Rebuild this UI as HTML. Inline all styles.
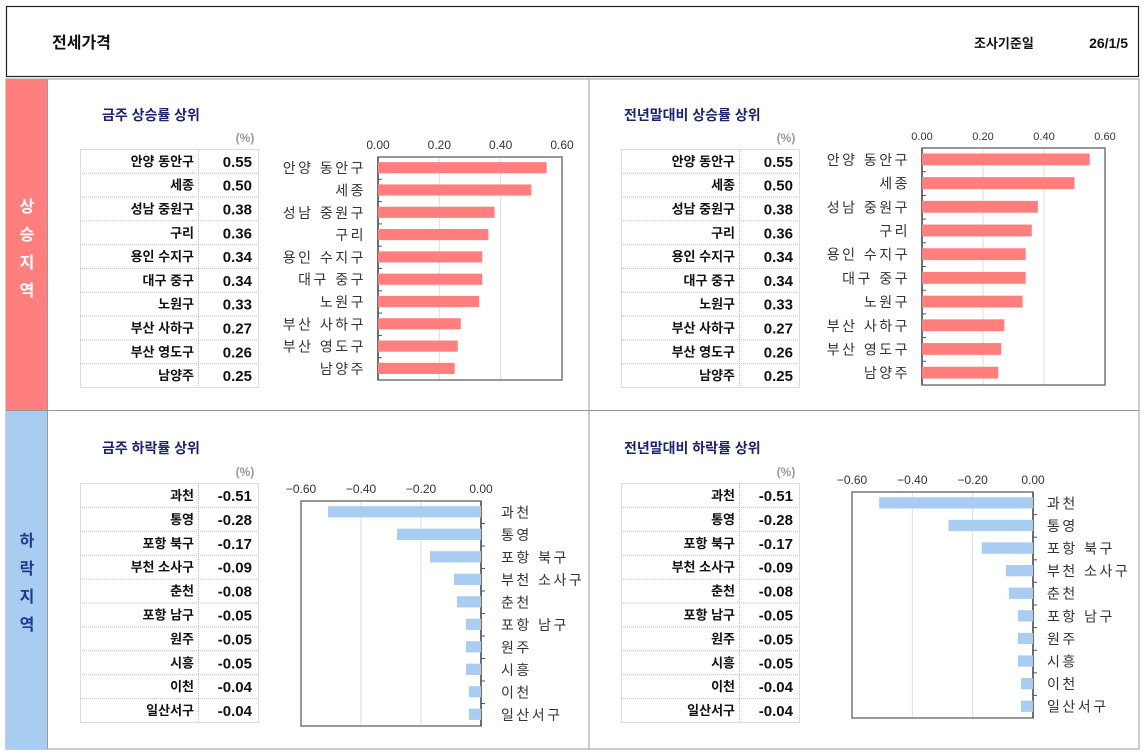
<!DOCTYPE html>
<html><head><meta charset="utf-8"><style>
html,body{margin:0;padding:0;background:#fff;width:1145px;height:753px;overflow:hidden}
svg{display:block}
text{font-family:"Liberation Sans","Noto Sans CJK KR",sans-serif}
</style></head><body>
<svg id="s" width="1145" height="753" viewBox="0 0 1145 753">
<rect x="6.5" y="6.5" width="1132" height="70" fill="#fff" stroke="#222" stroke-width="1.2"/>
<text x="52" y="48" font-size="16" font-weight="bold" fill="#111">전세가격</text>
<text x="974" y="48" font-size="13" font-weight="bold" fill="#111">조사기준일</text>
<text x="1128" y="48" font-size="14" font-weight="bold" fill="#111" text-anchor="end">26/1/5</text>
<rect x="6" y="79" width="1133" height="670" fill="#fff" stroke="#999" stroke-width="1"/>
<rect x="6" y="79" width="41" height="331" fill="#ff7f7f"/>
<rect x="6" y="411" width="41" height="338" fill="#a9cdf1"/>
<line x1="47.5" y1="79" x2="47.5" y2="749" stroke="#999"/>
<line x1="589" y1="79" x2="589" y2="749" stroke="#999"/>
<line x1="6" y1="410.5" x2="1139" y2="410.5" stroke="#999"/>
<g font-size="16" font-weight="bold" fill="#fff" text-anchor="middle">
<text x="27" y="212">상</text><text x="27" y="240">승</text><text x="27" y="268">지</text><text x="27" y="296">역</text></g>
<g font-size="16" font-weight="bold" fill="#1f3a8f" text-anchor="middle">
<text x="27" y="546">하</text><text x="27" y="574">락</text><text x="27" y="602">지</text><text x="27" y="630">역</text></g>
<g id="content"></g>
</svg>
<script>
const NS="http://www.w3.org/2000/svg";
const root=document.getElementById('content');
function mk(tag,attrs,parent,txt){const e=document.createElementNS(NS,tag);for(const k in attrs)e.setAttribute(k,attrs[k]);if(txt!==undefined)e.textContent=txt;(parent||root).appendChild(e);return e;}

const riseNames=["안양 동안구","세종","성남 중원구","구리","용인 수지구","대구 중구","노원구","부산 사하구","부산 영도구","남양주"];
const riseWeek=[0.55,0.50,0.38,0.36,0.34,0.34,0.33,0.27,0.26,0.25];
const riseYear=[0.55,0.50,0.38,0.36,0.34,0.34,0.33,0.27,0.26,0.25];
const fallNames=["과천","통영","포항 북구","부천 소사구","춘천","포항 남구","원주","시흥","이천","일산서구"];
const fallWeek=[-0.51,-0.28,-0.17,-0.09,-0.08,-0.05,-0.05,-0.05,-0.04,-0.04];
const fallYear=[-0.51,-0.28,-0.17,-0.09,-0.08,-0.05,-0.05,-0.05,-0.04,-0.04];
const riseTicks=[0,0.2,0.4,0.6];
const fallTicks=[-0.6,-0.4,-0.2,0];

function panel(p){
  const g=mk('g',{});
  
  
  const t=mk('text',{x:p.tx,y:p.ty,'font-size':14,'font-weight':'bold',fill:'#1c2470'},g,p.title);
  
  
  const u=mk('text',{x:p.tabX+165,y:p.tabY-7,'font-size':12,'font-weight':'bold',fill:'#999','text-anchor':'middle'},g,'(%)');
  
  
  const rh=(p.tabB-p.tabY)/10, W=178, c1=118;
  const tb=mk('g',{},g);
  
  
  mk('rect',{x:p.tabX+.5,y:p.tabY+.5,width:W,height:p.tabB-p.tabY,fill:'none',stroke:'#bbb','stroke-dasharray':'1,1'},tb);
  mk('line',{x1:p.tabX+c1+.5,y1:p.tabY,x2:p.tabX+c1+.5,y2:p.tabB,stroke:'#bbb','stroke-dasharray':'1,1'},tb);
  for(let i=0;i<10;i++){
    const y=p.tabY+rh*i;
    if(i>0)mk('line',{x1:p.tabX,y1:y+.5,x2:p.tabX+W,y2:y+.5,stroke:'#bbb','stroke-dasharray':'1,1'},tb);
    const n=mk('text',{x:p.tabX+c1-4,y:y+rh/2+5,'font-size':13,'font-weight':'bold','text-anchor':'end',fill:'#111'},tb,p.names[i]);
    
    
    const v=mk('text',{x:p.tabX+W-6,y:y+rh/2+6,'font-size':15,'font-weight':'bold','text-anchor':'end',fill:'#111'},tb,p.vals[i].toFixed(2));
    
    
  }
  const cg=mk('g',{},g);
  
  
  const min=p.ticks[0],max=p.ticks[p.ticks.length-1];
  const xs=v=>p.x0+(v-min)/(max-min)*(p.x1-p.x0);
  const bh=(p.y1-p.y0)/10;
  p.ticks.forEach(tv=>{
    const x=xs(tv);
    if(tv!==min&&tv!==max&&tv!==0)mk('line',{x1:x,y1:p.y0,x2:x,y2:p.y1,stroke:'#ddd'},cg);
    const tl=mk('text',{x:x,y:p.y0-8,'font-size':p.mono?11:12,'font-family':p.mono?'"Liberation Mono",monospace':'"Liberation Sans",sans-serif','text-anchor':'middle',fill:'#333'},cg,tv.toFixed(2).replace('-','−'));
    
    
  });
  mk('rect',{x:p.x0,y:p.y0,width:p.x1-p.x0,height:p.y1-p.y0,fill:'none',stroke:'#777','stroke-width':1.5},cg);
  const zx=xs(0);
  mk('line',{x1:zx,y1:p.y0,x2:zx,y2:p.y1,stroke:'#555','stroke-width':1.5},cg);
  for(let i=0;i<10;i++){
    const yc=p.y0+bh*(i+.5);
    if(i>0)mk('line',{x1:zx,y1:p.y0+bh*i,x2:zx+4,y2:p.y0+bh*i,stroke:'#555'},cg);
    const v=p.vals[i], xa=xs(v);
    const b=mk('rect',{x:Math.min(xa,zx),y:yc-bh*0.27,width:Math.abs(xa-zx),height:bh*0.5,fill:p.color},cg);
    
    
    const lx=p.neg?zx+p.lo:p.x0-12;
    const l=mk('text',{x:lx,y:yc+5,'font-size':14,'text-anchor':p.neg?'start':'end',fill:'#333','letter-spacing':'2.5'},cg,p.names[i]);
    
    
  }
}
panel({id:'weekly-rise-panel',title:'금주 상승률 상위',tx:102,ty:120,tabX:80,tabY:149,tabB:387,names:riseNames,vals:riseWeek,ticks:riseTicks,x0:378,x1:562,y0:157,y1:380,color:'#ff7f7f',neg:false});
panel({id:'yearly-rise-panel',title:'전년말대비 상승률 상위',tx:624,ty:120,tabX:621,tabY:149,tabB:387,names:riseNames,vals:riseYear,ticks:riseTicks,x0:922,x1:1105,y0:148,y1:385,color:'#ff7f7f',neg:false,mono:true});
panel({id:'weekly-fall-panel',title:'금주 하락률 상위',tx:102,ty:453,tabX:80,tabY:483,tabB:722,names:fallNames,vals:fallWeek,ticks:fallTicks,x0:301,x1:481,y0:501,y1:726,color:'#a9cdf1',neg:true,lo:20});
panel({id:'yearly-fall-panel',title:'전년말대비 하락률 상위',tx:624,ty:453,tabX:621,tabY:483,tabB:722,names:fallNames,vals:fallYear,ticks:fallTicks,x0:852,x1:1033,y0:492,y1:718,color:'#a9cdf1',neg:true,lo:14});
</script>
</body></html>
